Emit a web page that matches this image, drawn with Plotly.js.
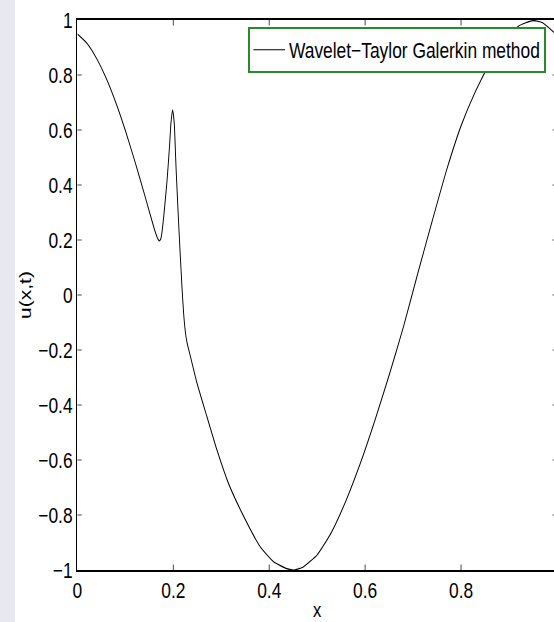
<!DOCTYPE html>
<html>
<head>
<meta charset="utf-8">
<script src="https://cdn.plot.ly/plotly-3.0.1.min.js"></script>
<style>
  html, body { margin: 0; padding: 0; width: 554px; height: 622px; overflow: hidden; background: #ffffff; }
  #strip { position: absolute; left: 0; top: 0; width: 15px; height: 622px; background: #e8e8f1; z-index: 0; }
  #plot { position: absolute; left: 0; top: 0; width: 708px; height: 640px; z-index: 1;
          transform: scaleX(0.79); transform-origin: 0 0; }
</style>
</head>
<body>
<div id="strip"></div>
<div id="plot"></div>
<script>
// Values
const xValues = [0.000, 0.020, 0.040, 0.060, 0.080, 0.100, 0.120, 0.140, 0.152, 0.1625,
  0.168, 0.171, 0.174, 0.176, 0.180, 0.187, 0.192, 0.195, 0.1985,
  0.202, 0.204, 0.206, 0.210, 0.214, 0.218, 0.2215, 0.2255, 0.2285, 0.232, 0.237,
  0.249, 0.270, 0.291, 0.315, 0.347, 0.381, 0.409, 0.437, 0.452, 0.470,
  0.500, 0.530, 0.560, 0.590, 0.620, 0.650, 0.680, 0.710, 0.740, 0.770,
  0.800, 0.830, 0.860, 0.890, 0.920, 0.950, 0.970, 1.000];
const uValues = [0.949, 0.915, 0.860, 0.788, 0.700, 0.598, 0.485, 0.365, 0.291, 0.228,
  0.203, 0.197, 0.205, 0.224, 0.285, 0.418, 0.539, 0.624, 0.673,
  0.624, 0.539, 0.450, 0.300, 0.160, 0.030, -0.067, -0.140, -0.172, -0.198, -0.233,
  -0.318, -0.442, -0.564, -0.685, -0.806, -0.915, -0.970, -0.995, -1.000, -0.990,
  -0.945, -0.862, -0.748, -0.612, -0.458, -0.292, -0.115, 0.080, 0.270, 0.455,
  0.615, 0.740, 0.842, 0.925, 0.978, 0.998, 0.990, 0.945];
const seriesName = 'Wavelet\u2212Taylor Galerkin method';
const xTickValues = [0, 0.2, 0.4, 0.6, 0.8, 1];
const yTickValues = [-1, -0.8, -0.6, -0.4, -0.2, 0, 0.2, 0.4, 0.6, 0.8, 1];
const xLabel = 'x';
const yLabel = 'u(x,t)';

const font = '"Liberation Sans", Arial, Helvetica, sans-serif';

const trace = {
  x: xValues,
  y: uValues,
  type: 'scatter',
  mode: 'lines',
  name: seriesName,
  line: { color: '#000000', width: 1.2, shape: 'spline', smoothing: 0.5 },
  showlegend: true
};

const axisCommon = {
  showline: true, linecolor: '#000000', linewidth: 1.7,
  mirror: 'ticks', ticks: 'inside', ticklen: 5.5, tickwidth: 1, tickcolor: '#333333',
  showgrid: false, zeroline: false,
  tickfont: { family: font, size: 22, color: '#000000' }
};

const layout = {
  width: 708, height: 640,
  margin: { l: 97.5, r: 3, t: 20, b: 70 },
  paper_bgcolor: 'rgba(0,0,0,0)',
  plot_bgcolor: '#ffffff',
  showlegend: true,
  xaxis: Object.assign({}, axisCommon, {
    range: [0, 1], tickmode: 'array', tickvals: xTickValues,
    title: { text: xLabel, font: { family: font, size: 21, color: '#000000' }, standoff: 0 }
  }),
  yaxis: Object.assign({}, axisCommon, {
    range: [-1, 1], tickmode: 'array', tickvals: yTickValues,
    title: { text: yLabel, font: { family: font, size: 21, color: '#000000' }, standoff: 3 }
  }),
  legend: {
    x: 0.977, xanchor: 'right', y: 0.987, yanchor: 'top',
    bgcolor: '#ffffff', bordercolor: '#2a8a2a', borderwidth: 1.8,
    font: { family: font, size: 22, color: '#000000' },
    itemwidth: 40, tracegroupgap: 0
  }
};

Plotly.newPlot('plot', [trace], layout, { staticPlot: true, displayModeBar: false });
</script>
</body>
</html>
